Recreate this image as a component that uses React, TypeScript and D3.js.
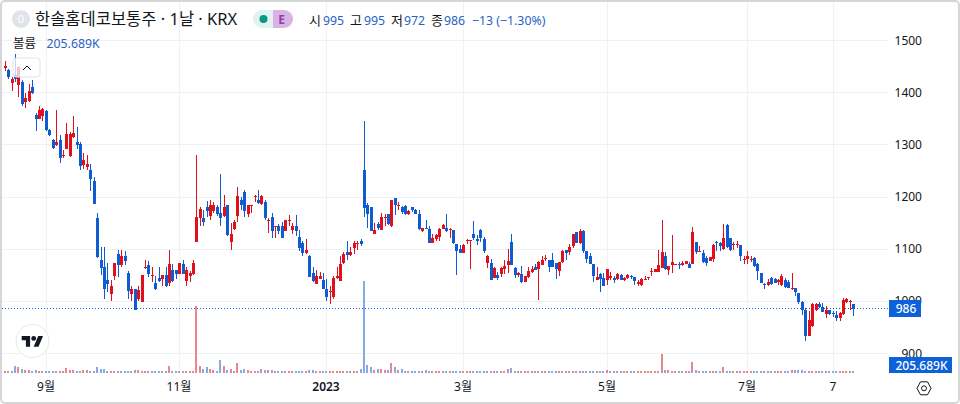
import * as d3 from "d3"

const opens = [
  1448,1444,1419,1433,1414,1420,1383,1384,1410,1357,
  1350,1355,1365,1329,1310,1299,1310,1278,1292,1278,
  1315,1305,1301,1262,1258,1251,1230,1160,1080,1065,
  1040,1014,1048,1090,1069,1086,1055,1014,1024,1005,
  998,1063,1070,1048,1036,1045,1043,1050,1035,1061,
  1061,1053,1071,1039,1048,1053,1113,1159,1160,1180,
  1163,1173,1180,1170,1163,1185,1113,1138,1163,1195,
  1210,1168,1184,1200,1195,1186,1190,1155,1161,1144,
  1145,1145,1134,1154,1137,1145,1124,1112,1092,1087,
  1055,1034,1043,1040,1024,1019,1009,1044,1039,1073,
  1095,1088,1103,1110,1115,1251,1185,1180,1129,1148,
  1136,1160,1168,1145,1199,1184,1180,1182,1168,1180,
  1175,1167,1134,1141,1139,1112,1119,1124,1138,1141,
  1136,1136,1110,1100,1093,1116,1115,1129,1119,1136,
  1120,1074,1073,1045,1050,1052,1062,1069,1113,1064,
  1050,1053,1038,1046,1057,1066,1062,1069,1083,1080,
  1080,1073,1058,1076,1099,1094,1107,1132,1111,1134,
  1096,1087,1071,1041,1053,1045,1041,1045,1045,1043,
  1050,1040,1044,1048,1046,1033,1031,1042,1045,1057,
  1057,1057,1064,1087,1061,1069,1069,1072,1069,1072,
  1072,1072,1114,1095,1092,1083,1078,1082,1113,1112,
  1100,1147,1122,1109,1109,1108,1081,1081,1081,1083,
  1071,1054,1033,1031,1045,1043,1038,1031,1041,1038,
  1023,1025,1016,999,983,934,952,983,994,989,
  976,983,978,973,969,976,999,999,995,
]
const closes = [
  1451,1430,1426,1427,1449,1378,1390,1404,1399,1350,
  1367,1369,1328,1319,1294,1305,1274,1280,1321,1321,
  1322,1299,1259,1270,1264,1234,1187,1085,1064,1023,
  1034,1030,1074,1069,1086,1078,1019,1024,983,1021,
  1050,1065,1053,1050,1023,1039,1050,1029,1071,1039,
  1053,1074,1053,1061,1055,1074,1161,1177,1153,1174,
  1185,1185,1168,1159,1180,1128,1129,1152,1201,1184,
  1174,1185,1185,1201,1188,1201,1159,1156,1134,1145,
  1134,1122,1155,1155,1145,1134,1103,1093,1099,1047,
  1039,1049,1049,1023,1009,1020,1045,1049,1071,1090,
  1088,1095,1111,1112,1110,1178,1168,1134,1136,1141,
  1161,1161,1148,1195,1184,1185,1171,1168,1173,1175,
  1167,1138,1141,1139,1112,1122,1127,1139,1146,1134,
  1138,1111,1097,1093,1108,1117,1117,1122,1116,1121,
  1096,1087,1041,1064,1045,1063,1068,1077,1069,1050,
  1054,1038,1048,1059,1062,1060,1075,1079,1084,1066,
  1066,1062,1076,1097,1093,1105,1129,1111,1134,1096,
  1082,1072,1048,1047,1042,1030,1062,1048,1040,1052,
  1041,1045,1050,1046,1039,1038,1043,1043,1046,1059,
  1062,1069,1095,1062,1068,1076,1072,1069,1074,1077,
  1064,1133,1094,1096,1075,1074,1085,1108,1112,1107,
  1122,1105,1099,1110,1110,1086,1082,1086,1082,1067,
  1059,1036,1032,1038,1033,1036,1040,1049,1027,1026,
  1026,1017,998,983,934,964,994,994,989,980,
  983,976,975,969,978,1003,1004,1001,986,
]
const highs = [
  1460,1446,1430,1475,1451,1424,1399,1416,1425,1361,
  1375,1371,1366,1331,1312,1366,1318,1291,1342,1325,
  1355,1335,1305,1285,1280,1264,1238,1170,1104,1104,
  1074,1040,1074,1099,1099,1096,1059,1029,1024,1029,
  1050,1080,1078,1065,1048,1065,1050,1065,1099,1071,
  1061,1074,1080,1065,1059,1080,1280,1181,1176,1193,
  1195,1190,1184,1245,1204,1185,1150,1155,1220,1200,
  1214,1185,1185,1204,1214,1203,1195,1159,1170,1145,
  1148,1153,1155,1165,1150,1165,1136,1115,1120,1088,
  1065,1060,1057,1055,1042,1030,1049,1065,1087,1094,
  1115,1105,1115,1115,1120,1345,1189,1180,1150,1153,
  1170,1168,1168,1195,1199,1191,1182,1184,1175,1181,
  1177,1175,1141,1155,1145,1130,1130,1140,1149,1168,
  1141,1136,1110,1108,1110,1119,1118,1154,1127,1138,
  1124,1089,1082,1066,1057,1065,1079,1100,1130,1065,
  1057,1068,1048,1066,1068,1071,1078,1087,1089,1080,
  1092,1073,1076,1098,1099,1109,1130,1132,1139,1136,
  1096,1093,1071,1066,1055,1055,1062,1057,1048,1055,
  1052,1047,1052,1050,1047,1041,1044,1049,1046,1064,
  1062,1099,1156,1095,1068,1127,1072,1076,1078,1078,
  1076,1142,1114,1106,1099,1086,1085,1110,1115,1113,
  1148,1148,1122,1113,1115,1108,1087,1097,1086,1085,
  1073,1055,1036,1043,1046,1045,1043,1052,1045,1040,
  1055,1026,1016,1001,987,981,996,996,999,997,
  991,984,981,981,979,1006,1006,1003,995,
]
const lows = [
  1441,1426,1404,1420,1392,1375,1371,1383,1397,1326,
  1349,1346,1326,1316,1292,1298,1265,1274,1292,1277,
  1313,1292,1251,1254,1251,1211,1186,1084,1050,1005,
  1018,1000,1040,1046,1065,1070,1004,1000,983,1000,
  998,1062,1046,1037,1021,1037,1030,1027,1030,1037,
  1043,1053,1053,1030,1037,1050,1113,1145,1145,1161,
  1155,1170,1163,1145,1161,1125,1099,1136,1152,1176,
  1161,1161,1170,1190,1187,1185,1156,1131,1121,1121,
  1129,1121,1134,1145,1129,1126,1096,1087,1091,1046,
  1037,1034,1042,1023,1000,995,1005,1043,1039,1071,
  1080,1087,1090,1099,1106,1161,1140,1134,1129,1136,
  1136,1144,1147,1143,1165,1176,1168,1166,1165,1172,
  1167,1136,1132,1139,1111,1111,1116,1116,1138,1132,
  1121,1110,1050,1093,1092,1110,1062,1117,1108,1113,
  1092,1064,1040,1044,1041,1047,1053,1055,1069,1044,
  1047,1036,1037,1045,1055,1060,1003,1069,1078,1056,
  1066,1043,1048,1073,1079,1089,1103,1111,1110,1093,
  1073,1071,1038,1040,1018,1029,1031,1040,1036,1041,
  1040,1039,1042,1043,1031,1029,1030,1040,1041,1049,
  1057,1057,1064,1061,1051,1055,1069,1062,1067,1071,
  1064,1071,1091,1095,1073,1067,1078,1075,1097,1097,
  1099,1102,1097,1099,1102,1078,1072,1072,1075,1066,
  1040,1035,1024,1030,1032,1035,1032,1030,1026,1025,
  1022,1010,994,974,924,934,951,981,987,979,
  968,974,970,962,962,974,997,984,972,
]
// volume in thousands of shares
const volumes = [
  200,200,200,700,570,400,300,300,170,270,
  200,170,170,170,170,200,200,170,500,300,
  270,200,200,270,270,170,200,600,400,400,
  170,170,170,170,200,200,170,170,330,270,
  200,200,170,170,170,200,200,170,700,200,
  170,170,170,170,170,170,6700,700,400,600,
  400,300,230,1300,700,300,400,200,1000,270,
  370,300,200,200,200,370,300,270,300,170,
  200,170,170,200,170,170,170,170,200,300,
  300,200,170,170,170,200,170,170,170,170,
  170,170,170,200,370,9200,800,600,300,400,
  400,300,300,1000,600,300,370,200,200,170,
  170,200,170,300,200,170,200,170,170,170,
  170,200,170,170,170,200,170,200,200,170,
  170,170,170,200,170,170,200,400,530,230,
  170,170,170,170,170,170,170,170,170,170,
  170,200,170,170,170,230,230,170,170,170,
  200,230,170,200,230,200,270,170,170,170,
  200,170,170,170,170,170,170,170,170,170,
  170,170,1930,330,270,170,170,170,170,170,
  170,1070,330,170,170,170,170,170,200,170,
  630,170,170,200,170,170,170,200,170,170,
  170,170,170,170,170,170,200,230,170,230,
  300,300,330,270,230,170,170,170,170,170,
  170,170,170,170,170,170,170,170,206,
]
const priceTicks = [1500, 1400, 1300, 1200, 1100, 1000, 900]
const timeTickIndex = [12, 51, 94, 134, 176, 217, 242]
const timeTickLabels = ["9월", "11월", "2023", "3월", "5월", "7월", "7"]

const UP = "#e0101c"
const DOWN = "#0f5bd1"
const UP_VOL = "#e8868c"
const DOWN_VOL = "#87a9e5"
const GRID = "#f0f1f4"
const TEXT = "#131722"
const BLUE_TEXT = "#2962c4"
const FONT = '"Noto Sans", "Noto Sans CJK KR", sans-serif'

const width = 960
const height = 404

export default function App() {
  const x = d3.scaleLinear().domain([0, opens.length - 1]).range([5.3, 853.7])
  const y = d3.scaleLinear().domain([1500, 900]).range([40.5, 353.5])
  const yVol = d3.scaleLinear().domain([0, 9200]).range([373, 281])

  const lastClose = closes[closes.length - 1]
  const lastY = Math.floor(y(lastClose))

  return (
    <svg
      width={width}
      height={height}
      style={{ position: "fixed", top: 0, left: 0, display: "block", background: "#fff" }}
      fontFamily={FONT}
    >
      {/* grid */}
      <g shapeRendering="crispEdges" stroke={GRID}>
        {priceTicks.map((t) => (
          <line key={t} x1={2} x2={888} y1={Math.floor(y(t)) + 0.5} y2={Math.floor(y(t)) + 0.5} />
        ))}
        {timeTickIndex.map((i) => (
          <line key={i} x1={Math.floor(x(i)) + 0.5} x2={Math.floor(x(i)) + 0.5} y1={2} y2={373} />
        ))}
      </g>

      {/* volume */}
      <g shapeRendering="crispEdges">
        {volumes.map((v, i) => (
          <rect
            key={i}
            x={Math.floor(x(i)) - 1}
            width={2}
            y={yVol(v)}
            height={yVol(0) - yVol(v)}
            fill={closes[i] >= opens[i] ? UP_VOL : DOWN_VOL}
          />
        ))}
      </g>

      {/* last price line */}
      <line
        x1={2}
        x2={889}
        y1={lastY + 0.5}
        y2={lastY + 0.5}
        stroke={DOWN}
        strokeDasharray="1 2"
        shapeRendering="crispEdges"
      />

      {/* candles */}
      <g shapeRendering="crispEdges">
        {opens.map((o, i) => {
          const c = closes[i]
          const col = c >= o ? UP : DOWN
          const cx = Math.floor(x(i))
          const top = y(Math.max(o, c))
          const bottom = y(Math.min(o, c))
          return (
            <g key={i} fill={col}>
              <rect x={cx} width={1} y={y(highs[i])} height={y(lows[i]) - y(highs[i])} />
              <rect x={cx - 1} width={3} y={top} height={Math.max(bottom - top, 1)} />
            </g>
          )
        })}
      </g>

      {/* frame */}
      <rect x={1} y={1} width={width - 2} height={height - 2} rx={4} fill="none" stroke="#d6d6d6" strokeWidth={2} />

      {/* legend */}
      <circle cx={21} cy={19} r={9} fill="#e0e3eb" />
      <text x={21} y={23} textAnchor="middle" fontSize={11} fill="#fff">0</text>
      <text x={35} y={25} fontSize={16.5} fill={TEXT}>한솔홈데코보통주 · 1날 · KRX</text>
      <path d="M273 10h-11a9 9 0 0 0 0 18h11z" fill="#e0f3f0" />
      <path d="M273 10h11a9 9 0 0 1 0 18h-11z" fill="#d9b3e3" />
      <circle cx={263.5} cy={19} r={4} fill="#089981" />
      <text x={281.5} y={24} textAnchor="middle" fontSize={12} fontWeight={700} fill="#8e3fae">E</text>
      <g fontSize={12.3}>
        <text x={309} y={25} fontSize={13} fill={TEXT}>시</text>
        <text x={323} y={25} fill={BLUE_TEXT}>995</text>
        <text x={350} y={25} fontSize={13} fill={TEXT}>고</text>
        <text x={364} y={25} fill={BLUE_TEXT}>995</text>
        <text x={391} y={25} fontSize={13} fill={TEXT}>저</text>
        <text x={404} y={25} fill={BLUE_TEXT}>972</text>
        <text x={431} y={25} fontSize={13} fill={TEXT}>종</text>
        <text x={444} y={25} fill={BLUE_TEXT}>986</text>
        <text x={472} y={25} fill={BLUE_TEXT}>−13 (−1.30%)</text>
      </g>
      <text x={13} y={48} fontSize={12.5} fill={TEXT}>볼륨</text>
      <text x={46.5} y={48} fontSize={12.3} fill={BLUE_TEXT}>205.689K</text>

      {/* collapse button */}
      <rect x={13} y={58} width={27} height={19} rx={3} fill="#fff" fillOpacity={0.75} stroke="#e0e3eb" />
      <path d="M23 70l4-4 4 4" fill="none" stroke={TEXT} strokeWidth={1} />

      {/* logo */}
      <circle cx={32.5} cy={341} r={16.5} fill="#fff" stroke="#e6e8ee" strokeWidth={1} />
      <g transform="translate(21.7,333.6) scale(0.6)" fill="#131722">
        <path d="M14 22H7V11H0V4h14v18zM28 22h-8l7.5-18h8L28 22z" />
        <circle cx={20} cy={8} r={4} />
      </g>

      {/* price axis */}
      <g fontSize={12} fill={TEXT}>
        {priceTicks.map((t) => (
          <text key={t} x={922} y={y(t) + 4} textAnchor="end">{t}</text>
        ))}
      </g>
      <rect x={889} y={lastY - 8} width={32} height={17} fill="#0c62d8" />
      <text x={906} y={lastY + 5} textAnchor="middle" fontSize={12} fontWeight={500} fill="#fff">{lastClose}</text>
      <rect x={889} y={357} width={63} height={16} fill="#0c62d8" />
      <text x={921.5} y={369.5} textAnchor="middle" fontSize={12} fontWeight={500} fill="#fff">205.689K</text>

      {/* time axis */}
      <g fontSize={12} fill={TEXT} textAnchor="middle">
        {timeTickIndex.map((i, k) => (
          <text
            key={i}
            x={Math.floor(x(i))}
            y={391}
            fontWeight={timeTickLabels[k] === "2023" ? 600 : 400}
          >
            {timeTickLabels[k]}
          </text>
        ))}
      </g>

      {/* settings */}
      <path d="M917 388.3l3.5-6.5h7l3.5 6.5-3.5 6.5h-7z" fill="none" stroke={TEXT} />
      <circle cx={924} cy={388.3} r={2.5} fill="none" stroke={TEXT} />
    </svg>
  )
}
